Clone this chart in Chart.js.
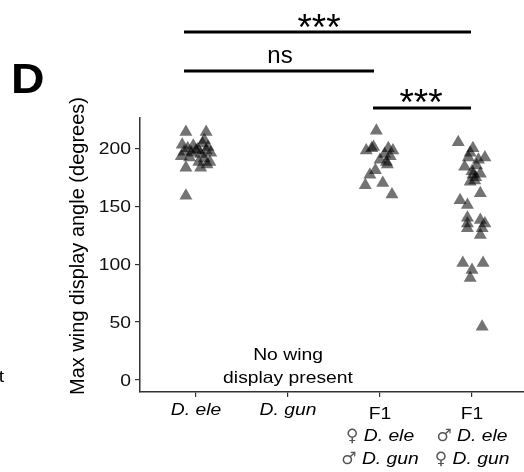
<!DOCTYPE html>
<html>
<head>
<meta charset="utf-8">
<script src="https://cdn.jsdelivr.net/npm/chart.js@4/dist/chart.umd.min.js"></script>
<style>
html,body{margin:0;padding:0;background:#fff;}
canvas{display:block;}
</style>
</head>
<body>
<canvas id="c" width="524" height="472"></canvas>
<script>
// ---- data ----
const categories = ['D. ele', 'D. gun', 'F1', 'F1'];
const categorySub1 = ['', '', '\u2640 D. ele', '\u2642 D. ele'];
const categorySub2 = ['', '', '\u2642 D. gun', '\u2640 D. gun'];
const yTicks = [0, 50, 100, 150, 200];

// D. ele (category 1)
const eleJitter = [-0.11, 0.11, 0.09, -0.15, -0.09, -0.03, 0.02, 0.07, 0.13, -0.13, -0.05, 0.00, 0.05, 0.11, 0.16, -0.16, -0.07, 0.09, 0.03, 0.12, -0.11, 0.05, 0.15, -0.11];
const eleValues = [214, 214, 207, 203, 200, 202, 199, 204, 201, 197, 196, 198, 195, 198, 196, 193, 192, 191, 188, 186, 183, 183, 188, 159];

// D. gun (category 2) - no wing display
const gunJitter = [];
const gunValues = [];

// F1 female D. ele x male D. gun (category 3)
const f1aJitter = [-0.04, -0.15, -0.09, 0.09, 0.14, 0.05, 0.00, -0.05, 0.08, -0.11, -0.16, 0.03, 0.13, -0.07, 0.11, 0.07];
const f1aValues = [215, 198, 200, 200, 198, 195, 190, 181, 186, 177, 168, 170, 160, 201, 193, 188];

// F1 male D. ele x female D. gun (category 4)
const f1bJitter = [-0.15, 0.01, 0.14, -0.04, -0.08, 0.05, 0.09, 0.01, -0.02, 0.03, 0.09, -0.13, -0.05, -0.05, -0.05, 0.09, 0.14, 0.11, 0.09, -0.05, -0.10, 0.12, 0.00, -0.02, 0.11, -0.02, 0.07, 0.00, 0.04];
const f1bValues = [205, 200, 192, 192, 184, 185, 178, 177, 171, 172, 161, 155, 151, 140, 135, 138, 135, 131, 125, 131, 101, 101, 95, 88, 46, 196, 190, 180, 175];

// significance comparisons: [from category, to category, label]
const comparisons = [[1, 4, '***'], [1, 3, 'ns'], [3, 4, '***']];

const groups = [
  {cat: 1, jitter: eleJitter, values: eleValues},
  {cat: 2, jitter: gunJitter, values: gunValues},
  {cat: 3, jitter: f1aJitter, values: f1aValues},
  {cat: 4, jitter: f1bJitter, values: f1bValues}
];

const FONT = '"Liberation Sans", Arial, Helvetica, sans-serif';
const AXIS = '#333333';
const SX = 1.17; // horizontal stretch of the original figure's text

const datasets = groups.map(g => ({
  data: g.values.map((v, i) => ({x: g.cat + g.jitter[i], y: v})),
  pointStyle: 'triangle',
  pointRadius: 7.5,
  pointHoverRadius: 7.5,
  backgroundColor: 'rgba(0,0,0,0.55)',
  borderColor: 'rgba(0,0,0,0)',
  borderWidth: 0,
  showLine: false
}));

function stretchText(ctx, text, x, y, align, sx) {
  ctx.save();
  ctx.translate(x, y);
  ctx.scale(sx, 1);
  ctx.textAlign = align;
  ctx.fillText(text, 0, 0);
  ctx.restore();
}

const annotations = {
  id: 'annotations',
  afterDraw(chart) {
    const ctx = chart.ctx;
    const xs = chart.scales.x, ys = chart.scales.y;
    const px = v => xs.getPixelForValue(v);
    ctx.save();
    ctx.fillStyle = '#000';
    ctx.textBaseline = 'alphabetic';

    // y tick labels
    ctx.font = '16.5px ' + FONT;
    ctx.fillStyle = '#111';
    yTicks.forEach(v => stretchText(ctx, String(v), 131, ys.getPixelForValue(v) + 6, 'right', SX));
    ctx.fillStyle = '#000';

    // x category labels
    categories.forEach((c, i) => {
      const x = px(i + 1);
      if (c === 'F1') {
        ctx.font = '16.5px ' + FONT;
        stretchText(ctx, c, x, 419, 'center', SX);
        [categorySub1[i], categorySub2[i]].forEach((s, k) => {
          const y = 441 + k * 23;
          const sym = s.charAt(0);
          const rest = ' ' + s.slice(2);
          ctx.font = 'italic 16.5px ' + FONT;
          const wRest = ctx.measureText(rest).width * SX;
          ctx.font = '17px "DejaVu Sans", ' + FONT;
          const wSym = ctx.measureText(sym).width;
          const start = x - (wRest + wSym) / 2;
          ctx.fillStyle = '#555';
          stretchText(ctx, sym, start, y, 'left', 1);
          ctx.fillStyle = '#000';
          ctx.font = 'italic 16.5px ' + FONT;
          stretchText(ctx, rest, start + wSym, y, 'left', SX);
        });
      } else {
        ctx.font = 'italic 16.5px ' + FONT;
        stretchText(ctx, c, x, 415, 'center', SX);
      }
    });

    // no display note
    ctx.font = '16.5px ' + FONT;
    stretchText(ctx, 'No wing', px(2), 360, 'center', SX);
    stretchText(ctx, 'display present', px(2), 383, 'center', SX);

    // y axis title
    ctx.save();
    ctx.translate(84, 246);
    ctx.rotate(-Math.PI / 2);
    ctx.font = '20px ' + FONT;
    ctx.textAlign = 'center';
    ctx.fillText('Max wing display angle (degrees)', 0, 0);
    ctx.restore();

    // panel letter
    ctx.font = 'bold 43px ' + FONT;
    stretchText(ctx, 'D', 11, 93, 'left', 1.08);
    ctx.font = '16.5px ' + FONT;
    stretchText(ctx, 't', 4, 382, 'right', SX);

    // significance bars
    ctx.lineWidth = 3;
    ctx.strokeStyle = '#000';
    const bars = [
      {x0: px(comparisons[0][0]) - 12, x1: px(comparisons[0][1]) - 1, y: 32, lx: 319, ly: 40, size: 37},
      {x0: px(comparisons[1][0]) - 12, x1: px(comparisons[1][1]) - 6, y: 71, lx: 280, ly: 63, size: 24},
      {x0: px(comparisons[2][0]) - 7, x1: px(comparisons[2][1]) - 1, y: 108, lx: 421, ly: 114.5, size: 37}
    ];
    bars.forEach((b, i) => {
      ctx.beginPath();
      ctx.moveTo(b.x0, b.y);
      ctx.lineTo(b.x1, b.y);
      ctx.stroke();
      ctx.font = b.size + 'px ' + FONT;
      stretchText(ctx, comparisons[i][2], b.lx, b.ly, 'center', 1);
    });
    ctx.restore();
  }
};

new Chart(document.getElementById('c'), {
  type: 'scatter',
  data: {datasets},
  plugins: [annotations],
  options: {
    responsive: false,
    animation: false,
    devicePixelRatio: 1,
    layout: {autoPadding: false, padding: {top: 118, left: 0, right: 0, bottom: 0}},
    plugins: {legend: {display: false}, tooltip: {enabled: false}},
    scales: {
      x: {
        type: 'linear',
        min: 0.391,
        max: 4.565,
        afterBuildTicks: s => { s.ticks = categories.map((c, i) => ({value: i + 1})); },
        afterFit: s => { s.height = 80; },
        ticks: {display: false},
        grid: {display: true, drawOnChartArea: false, drawTicks: true, tickLength: 5, color: AXIS, lineWidth: 1.2},
        border: {display: true, color: AXIS, width: 1.5}
      },
      y: {
        min: -10.3,
        max: 226,
        afterBuildTicks: s => { s.ticks = yTicks.map(v => ({value: v})); },
        afterFit: s => { s.width = 140; },
        ticks: {display: false},
        grid: {display: true, drawOnChartArea: false, drawTicks: true, tickLength: 5, color: AXIS, lineWidth: 1.2},
        border: {display: true, color: AXIS, width: 1.5}
      }
    }
  }
});
</script>
</body>
</html>
